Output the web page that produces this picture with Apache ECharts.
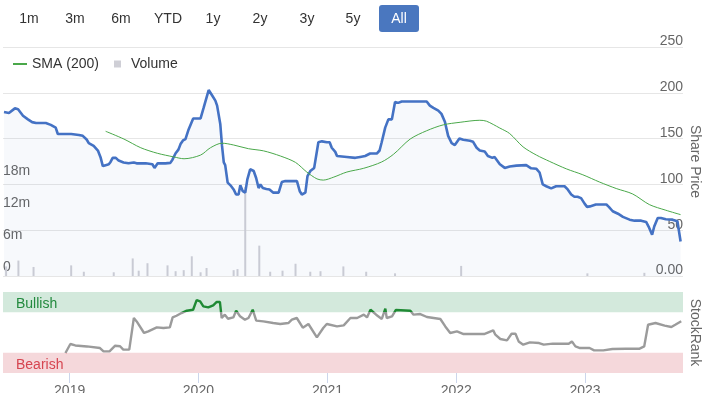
<!DOCTYPE html>
<html>
<head>
<meta charset="utf-8">
<script src="https://cdn.jsdelivr.net/npm/echarts@6/dist/echarts.min.js"></script>
<style>
html,body{margin:0;padding:0;background:#fff;}
#chart{width:711px;height:393px;}
</style>
</head>
<body>
<div id="chart"></div>
<script>
// ---- data ----
var rangeButtons = ['1m','3m','6m','YTD','1y','2y','3y','5y','All'];
var xMin = '2018-06-26';
var xMax = '2023-10-06';

var priceDates = ['2018-06-26','2018-07-10','2018-07-27','2018-08-05','2018-08-19','2018-09-02','2018-09-14','2018-09-25','2018-10-23','2018-11-06','2018-11-20','2018-11-26','2019-01-03','2019-01-25','2019-02-05','2019-02-16','2019-02-22','2019-03-08','2019-03-20','2019-03-28','2019-04-03','2019-04-11','2019-04-20','2019-04-25','2019-05-01','2019-05-10','2019-05-18','2019-06-01','2019-06-15','2019-06-30','2019-07-08','2019-08-03','2019-08-22','2019-08-28','2019-09-06','2019-09-28','2019-10-12','2019-10-18','2019-10-27','2019-11-04','2019-11-10','2019-11-17','2019-11-24','2019-12-03','2019-12-16','2020-01-06','2020-01-15','2020-01-29','2020-02-08','2020-02-17','2020-02-22','2020-03-02','2020-03-07','2020-03-12','2020-03-16','2020-03-23','2020-03-31','2020-04-09','2020-04-16','2020-04-23','2020-04-28','2020-05-05','2020-05-12','2020-05-18','2020-05-26','2020-06-05','2020-06-12','2020-06-19','2020-06-24','2020-07-01','2020-07-11','2020-07-20','2020-07-31','2020-08-15','2020-08-24','2020-09-03','2020-10-06','2020-10-14','2020-10-20','2020-10-30','2020-11-05','2020-11-13','2020-11-24','2020-12-06','2020-12-16','2020-12-30','2021-01-07','2021-01-13','2021-01-23','2021-01-28','2021-02-25','2021-03-21','2021-04-04','2021-04-18','2021-05-02','2021-05-21','2021-05-29','2021-06-04','2021-06-14','2021-06-23','2021-07-03','2021-07-12','2021-07-21','2021-07-31','2021-10-10','2021-10-19','2021-10-29','2021-11-12','2021-11-21','2021-12-01','2021-12-10','2021-12-20','2021-12-29','2022-01-11','2022-01-22','2022-02-10','2022-02-19','2022-03-01','2022-03-10','2022-03-24','2022-04-02','2022-04-15','2022-04-21','2022-05-06','2022-05-20','2022-06-03','2022-06-22','2022-07-20','2022-08-03','2022-08-18','2022-08-27','2022-09-05','2022-09-15','2022-09-29','2022-10-13','2022-11-06','2022-11-15','2022-11-25','2022-12-04','2022-12-13','2022-12-23','2023-01-02','2023-01-09','2023-01-17','2023-02-03','2023-03-05','2023-03-12','2023-03-23','2023-04-07','2023-04-21','2023-05-10','2023-05-24','2023-06-12','2023-06-26','2023-07-03','2023-07-13','2023-07-19','2023-07-29','2023-08-07','2023-08-21','2023-09-09','2023-09-23','2023-09-28','2023-10-02'];
var priceValues = [179,178,183,182,175,171,168,167,167,165,162,155,155,154,153,149,145,142,137,129,120,121,122,124.5,129,129,126,124,123,124,123,123,122,118,123,123,123.5,127,134,138,144,148,149.5,160,172,172,184,203,197,191.5,186,166,142,124,121,102,99,94.5,89,89,99,92.6,91,105.5,116.5,114.6,107,96,100,96,95,94.5,91,91,102.5,103.6,103.6,92.6,89,91,109,114.6,118,146,147,146,146,140,135.5,131,130,129,130,131,133.7,133.7,137,146,162,171,171,190,189,190.5,190.5,186,183.5,180.5,177,168,153,145,143,150,148.7,147.6,146.5,140,137,136,131,129,130,122,118,119.5,120.5,121,117.6,117,113,100,98,95.6,98,98,94.5,89,86.5,86.5,85,79,75.5,76,78,78,75.5,70.7,68,64.5,61.5,60.4,60.4,59,54,45,54,63.4,63.4,62,61.5,59.7,58,37.7];

var smaDates = ['2019-04-11','2019-06-02','2019-07-20','2019-09-05','2019-10-22','2019-11-20','2020-01-06','2020-02-03','2020-03-07','2020-04-09','2020-05-21','2020-07-03','2020-08-20','2020-10-02','2020-11-03','2020-12-02','2020-12-20','2021-01-19','2021-02-25','2021-04-14','2021-06-04','2021-07-08','2021-08-24','2021-10-10','2021-11-26','2022-01-13','2022-03-10','2022-03-29','2022-05-06','2022-06-03','2022-07-11','2022-08-18','2022-09-25','2022-11-11','2022-12-28','2023-02-14','2023-04-02','2023-05-19','2023-07-05','2023-08-21','2023-10-02'];
var smaValues = [158,149.5,140,134,130,128,132,140,145,143,139,136.6,131,124,113.5,106,104.7,108,113.5,117.6,124.5,133,149.5,158.6,165,167.8,170,169,161.5,155.5,141,132,125,117,110.5,102.5,95.5,89.5,78,71.8,67];

var volDates = ['2018-07-02','2018-08-06','2018-09-18','2019-01-03','2019-02-08','2019-05-04','2019-06-27','2019-07-14','2019-08-08','2019-10-04','2019-10-27','2019-11-19','2019-12-12','2020-01-06','2020-01-23','2020-04-09','2020-04-20','2020-05-12','2020-06-21','2020-07-22','2020-08-26','2020-10-02','2020-11-13','2020-12-12','2021-02-15','2021-04-21','2021-07-12','2022-01-16','2023-01-10','2023-06-21'];
var volValues = [1.8,2.9,1.7,2.0,0.8,0.7,3.3,1.0,2.4,2.0,0.9,1.1,3.7,0.7,1.5,1.1,1.3,16.7,5.7,0.8,1.0,2.3,0.8,0.9,1.8,0.8,0.5,1.9,0.5,0.6];

var srDates = ['2018-12-20','2019-01-03','2019-01-17','2019-02-19','2019-03-28','2019-04-07','2019-04-24','2019-05-10','2019-05-24','2019-06-02','2019-06-19','2019-07-02','2019-07-10','2019-07-31','2019-08-12','2019-09-05','2019-09-24','2019-10-12','2019-10-20','2019-10-31','2019-11-14','2019-11-29','2019-12-17','2019-12-27','2020-01-06','2020-01-15','2020-01-29','2020-02-12','2020-02-22','2020-03-02','2020-03-07','2020-03-16','2020-03-25','2020-04-09','2020-04-17','2020-04-28','2020-05-12','2020-05-22','2020-06-03','2020-06-13','2020-07-03','2020-07-31','2020-08-20','2020-09-12','2020-09-22','2020-10-06','2020-10-23','2020-11-08','2020-12-02','2020-12-20','2020-12-30','2021-01-28','2021-02-16','2021-03-07','2021-03-26','2021-04-14','2021-04-23','2021-05-03','2021-05-19','2021-06-04','2021-06-14','2021-06-18','2021-07-03','2021-07-14','2021-08-24','2021-09-02','2021-09-21','2021-10-10','2021-11-17','2021-12-01','2021-12-15','2022-01-03','2022-01-22','2022-03-21','2022-04-16','2022-04-22','2022-05-06','2022-05-25','2022-06-07','2022-06-18','2022-06-27','2022-07-10','2022-07-29','2022-08-24','2022-09-06','2022-10-02','2022-11-16','2022-11-25','2022-12-05','2022-12-18','2023-01-14','2023-01-27','2023-02-22','2023-03-20','2023-04-27','2023-06-05','2023-06-18','2023-06-29','2023-07-20','2023-08-15','2023-09-03','2023-09-14','2023-10-01'];
var srValues = [24.7,35.8,34,32.8,30.8,26.7,26.7,33.7,33,28.8,28.8,67.9,63.7,49.4,51.4,56.3,55.5,56.3,68.6,70.7,74,76.9,78.1,90,88.4,82.2,81,83.5,87.7,87.7,67.9,72,67,68.6,77,70,65.8,67.9,78.1,64.6,63.7,61.7,60.5,61.7,65.8,67.9,55.9,60.5,44,55.5,60.5,57.5,58.8,67.9,67.9,72,68.6,78.1,72,66.7,79.4,67.9,69.9,77.8,76.9,72,72.8,69.1,66.7,57.5,49.4,51.4,48.1,48.1,52.6,47.3,42,40.2,48.5,48.5,39,35,37.8,37,35,36.2,36.2,39,32.8,30.8,30.8,27.9,27.9,29.6,30,30,32.8,59.6,61.7,58.4,56.8,59.6,64];

function pairs(d, v) { var out = []; var n = Math.min(d.length, v.length); for (var i = 0; i < n; i++) out.push([d[i], v[i]]); return out; }

var FONT = '"Liberation Sans", Arial, sans-serif';
var chart = echarts.init(document.getElementById('chart'), null, {renderer: 'canvas'});

// range selector buttons (text elements)
var btnX = [29, 75, 121, 168, 213, 260, 307, 353, 399];
var graphics = [];
rangeButtons.forEach(function (b, i) {
  if (b === 'All') {
    graphics.push({type: 'rect', left: 379, top: 5, shape: {width: 40, height: 27, r: 3}, style: {fill: '#4a77bf'}});
  }
  graphics.push({type: 'text', x: btnX[i], y: 19, style: {text: b, fill: b === 'All' ? '#ffffff' : '#333333', font: '14px ' + FONT, textAlign: 'center', textVerticalAlign: 'middle'}});
});

var option = {
  animation: false,
  textStyle: {fontFamily: FONT},
  graphic: graphics,
  legend: [
    {data: ['SMA (200)'], left: 12, top: 57, padding: 0, itemWidth: 14, itemHeight: 2, itemGap: 0, textStyle: {color: '#333', fontSize: 14, fontFamily: FONT}, selectedMode: false},
    {data: [{name: 'Volume', icon: 'rect'}], left: 114, top: 57, padding: 0, itemWidth: 7, itemHeight: 7, textStyle: {color: '#333', fontSize: 14, fontFamily: FONT, padding: [0, 0, 0, 5]}, selectedMode: false}
  ],
  grid: [
    {left: 3, right: 28, top: 47, height: 229, outerBoundsMode: 'none', containLabel: false},
    {left: 3, right: 28, top: 292, height: 81, outerBoundsMode: 'none', containLabel: false}
  ],
  xAxis: [
    {type: 'time', gridIndex: 0, min: xMin, max: xMax, show: false},
    {type: 'time', gridIndex: 1, min: xMin, max: xMax,
      minInterval: 365 * 24 * 3600 * 1000, maxInterval: 366 * 24 * 3600 * 1000,
      axisLine: {show: false},
      axisTick: {show: true, length: 10, lineStyle: {color: '#ccd6eb'}},
      splitLine: {show: false},
      axisLabel: {color: '#666', fontSize: 14, margin: 11, fontFamily: FONT, formatter: '{yyyy}'}
    }
  ],
  yAxis: [
    {type: 'value', gridIndex: 0, position: 'right', min: 0, max: 250, interval: 50,
      name: 'Share Price', nameLocation: 'middle', nameRotate: -90, nameGap: 12, nameMoveOverlap: false,
      nameTextStyle: {color: '#666', fontSize: 14, fontFamily: FONT, verticalAlign: 'middle'},
      axisLine: {show: false}, axisTick: {show: false},
      splitLine: {lineStyle: {color: '#e6e6e6'}},
      axisLabel: {inside: true, margin: 0, color: '#666', fontSize: 14, fontFamily: FONT, verticalAlign: 'bottom', lineHeight: 11,
        formatter: function (v) { return v === 0 ? '0.00' : String(v); }}
    },
    {type: 'value', gridIndex: 0, position: 'left', min: 0, max: 43, interval: 6,
      axisLine: {show: false}, axisTick: {show: false}, splitLine: {show: false},
      axisLabel: {inside: true, margin: 0, color: '#666', fontSize: 14, fontFamily: FONT, verticalAlign: 'bottom', lineHeight: 18,
        formatter: function (v) { return v === 0 ? '0' : (v <= 18 ? v + 'm' : ''); }}
    },
    {type: 'value', gridIndex: 1, position: 'right', min: 0, max: 100, interval: 25,
      name: 'StockRank', nameLocation: 'middle', nameRotate: -90, nameGap: 12, nameMoveOverlap: false,
      nameTextStyle: {color: '#666', fontSize: 14, fontFamily: FONT, verticalAlign: 'middle'},
      axisLine: {show: false}, axisTick: {show: false}, splitLine: {show: false},
      axisLabel: {inside: true, margin: 0, color: '#666', fontSize: 14, fontFamily: FONT, verticalAlign: 'bottom', lineHeight: 14,
        formatter: function (v) { return v === 0 ? '0' : ''; }}
    }
  ],
  visualMap: {
    type: 'piecewise', show: false, seriesIndex: 4, dimension: 1,
    pieces: [
      {lt: 25, color: '#d9434f'},
      {gte: 25, lte: 75, color: '#9b9b9b'},
      {gt: 75, color: '#1f8a34'}
    ]
  },
  series: [
    {type: 'bar', name: 'Volume', xAxisIndex: 0, yAxisIndex: 1, data: pairs(volDates, volValues), barWidth: 2,
      itemStyle: {color: '#cfcfd6'}, z: 1},
    {type: 'line', name: 'Share Price', xAxisIndex: 0, yAxisIndex: 0, data: pairs(priceDates, priceValues),
      symbol: 'none', lineStyle: {color: '#4472c4', width: 2.6}, itemStyle: {color: '#4472c4'},
      areaStyle: {color: 'rgba(68,114,196,0.06)'}, z: 3},
    {type: 'line', name: 'SMA (200)', xAxisIndex: 0, yAxisIndex: 0, data: pairs(smaDates, smaValues), smooth: 0.3,
      symbol: 'none', lineStyle: {color: '#4aa84a', width: 1}, itemStyle: {color: '#4aa84a'}, z: 4},
    {type: 'line', name: 'bands', xAxisIndex: 1, yAxisIndex: 2, data: [], z: 1,
      markArea: {silent: true, data: [
        [{yAxis: 75, itemStyle: {color: '#d3e9dc'}, label: {show: true, position: 'insideLeft', distance: 13, color: '#238a3e', fontSize: 14, fontFamily: FONT, offset: [0, 2]}, name: 'Bullish'}, {yAxis: 100}],
        [{yAxis: 0, itemStyle: {color: '#f5d8db'}, label: {show: true, position: 'insideLeft', distance: 13, color: '#d64550', fontSize: 14, fontFamily: FONT, offset: [0, 2]}, name: 'Bearish'}, {yAxis: 25}]
      ]}
    },
    {type: 'line', name: 'StockRank', xAxisIndex: 1, yAxisIndex: 2, data: pairs(srDates, srValues),
      symbol: 'none', lineStyle: {width: 2.4}, z: 3}
  ]
};
chart.setOption(option);
</script>
</body>
</html>
